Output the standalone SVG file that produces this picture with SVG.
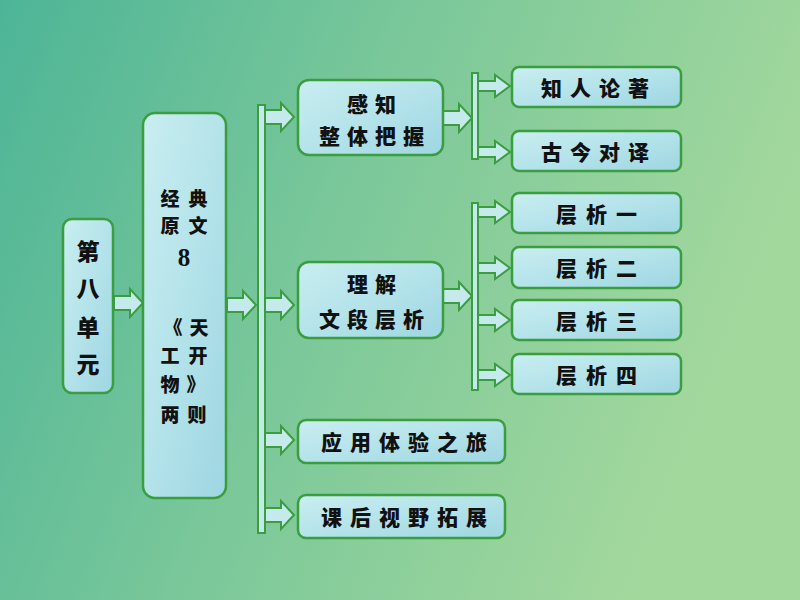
<svg xmlns="http://www.w3.org/2000/svg" width="800" height="600" viewBox="0 0 800 600">
<defs>
<linearGradient id="bg" x1="0" y1="0" x2="1" y2="0.3">
<stop offset="0" stop-color="#4db597"/>
<stop offset="0.5" stop-color="#7cc89a"/>
<stop offset="1" stop-color="#a3d89d"/>
</linearGradient>
<linearGradient id="box" x1="0" y1="0" x2="1" y2="1">
<stop offset="0" stop-color="#c9eef0"/>
<stop offset="0.5" stop-color="#b4e3ea"/>
<stop offset="1" stop-color="#9ed6e2"/>
</linearGradient>
<style>
.n{fill:url(#box);stroke:#3a9d3e;stroke-width:2.5}
.bar{fill:#c4e9ea;stroke:#3a9d3e;stroke-width:2}
.ar{fill:#c4eaec;stroke:#3a9d3e;stroke-width:2;stroke-linejoin:miter}
.t{font-family:"Noto Sans CJK SC","Noto Sans CJK JP",sans-serif;font-weight:900;font-size:21px;fill:#111;dominant-baseline:central;text-anchor:middle}
.big{font-size:23px}
.s{font-size:19px}
.d{font-family:"Liberation Serif",serif;font-weight:bold;font-size:25px;fill:#111;dominant-baseline:central;text-anchor:middle}
</style>
<path id="aL" d="M0,-7 H16 V-14 L29,0 L16,14 V7 H0 Z"/>
<path id="aS" d="M0,-5 H17 V-11 L32,0 L17,11 V5 H0 Z"/>
</defs>
<rect width="800" height="600" fill="url(#bg)"/>

<g id="connectors">
<use href="#aL" class="ar" x="114" y="303"/>
<use href="#aL" class="ar" x="227" y="305"/>
<rect class="bar" x="258" y="105" width="7" height="428"/>
<use href="#aL" class="ar" x="265" y="117"/>
<use href="#aL" class="ar" x="265" y="305"/>
<use href="#aL" class="ar" x="265" y="440"/>
<use href="#aL" class="ar" x="265" y="515"/>
<use href="#aL" class="ar" x="443" y="118"/>
<use href="#aL" class="ar" x="443" y="296"/>
<rect class="bar" x="472" y="73" width="6" height="86"/>
<rect class="bar" x="472" y="203" width="6" height="187"/>
<use href="#aS" class="ar" x="478" y="86"/>
<use href="#aS" class="ar" x="478" y="152"/>
<use href="#aS" class="ar" x="478" y="212"/>
<use href="#aS" class="ar" x="478" y="268"/>
<use href="#aS" class="ar" x="478" y="320"/>
<use href="#aS" class="ar" x="478" y="375"/>
</g>

<g id="unit">
<rect class="n" x="63" y="219" width="50" height="174" rx="9"/>
<text class="t big" x="88" y="250">第</text>
<text class="t big" x="88" y="287">八</text>
<text class="t big" x="88" y="326">单</text>
<text class="t big" x="88" y="363">元</text>
</g>

<g id="classic">
<rect class="n" x="143" y="113" width="83" height="385" rx="12"/>
<text class="t s" x="170" y="197">经</text><text class="t s" x="198" y="197">典</text>
<text class="t s" x="170" y="224">原</text><text class="t s" x="198" y="224">文</text>
<text class="d" x="184" y="257">8</text>
<text class="t s" x="173" y="326">《</text><text class="t s" x="199" y="326">天</text>
<text class="t s" x="170" y="354">工</text><text class="t s" x="198" y="354">开</text>
<text class="t s" x="170" y="383">物</text><text class="t s" x="196" y="383">》</text>
<text class="t s" x="170" y="413">两</text><text class="t s" x="197" y="413">则</text>
</g>

<g id="ganzhi">
<rect class="n" x="298" y="80" width="145" height="75" rx="11"/>
<text class="t" x="375" y="103" letter-spacing="7">感知</text>
<text class="t" x="375" y="135" letter-spacing="7">整体把握</text>
</g>

<g id="lijie">
<rect class="n" x="298" y="262" width="145" height="76" rx="11"/>
<text class="t" x="375" y="283" letter-spacing="7">理解</text>
<text class="t" x="375" y="318" letter-spacing="7">文段层析</text>
</g>

<g id="yingyong">
<rect class="n" x="298" y="420" width="207" height="43" rx="8"/>
<text class="t" x="408" y="441" letter-spacing="8">应用体验之旅</text>
</g>

<g id="kehou">
<rect class="n" x="298" y="495" width="207" height="43" rx="8"/>
<text class="t" x="408" y="516" letter-spacing="8">课后视野拓展</text>
</g>

<g id="zhiren">
<rect class="n" x="512" y="67" width="169" height="40" rx="7"/>
<text class="t" x="599" y="87" letter-spacing="8">知人论著</text>
</g>
<g id="gujin">
<rect class="n" x="512" y="131" width="169" height="40" rx="7"/>
<text class="t" x="599" y="151" letter-spacing="8">古今对译</text>
</g>
<g id="c1">
<rect class="n" x="512" y="193" width="169" height="40" rx="7"/>
<text class="t" x="601" y="213" letter-spacing="9">层析一</text>
</g>
<g id="c2">
<rect class="n" x="512" y="247" width="169" height="41" rx="7"/>
<text class="t" x="601" y="267" letter-spacing="9">层析二</text>
</g>
<g id="c3">
<rect class="n" x="512" y="300" width="169" height="40" rx="7"/>
<text class="t" x="601" y="320" letter-spacing="9">层析三</text>
</g>
<g id="c4">
<rect class="n" x="512" y="354" width="169" height="40" rx="7"/>
<text class="t" x="601" y="374" letter-spacing="9">层析四</text>
</g>
</svg>
